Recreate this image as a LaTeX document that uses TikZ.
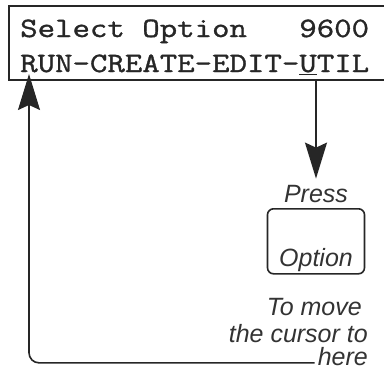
\documentclass[tikz,border=0pt]{standalone}
\usepackage{fontspec}
\setmonofont{Latin Modern Mono}[FakeStretch=1.21,FakeBold=1.2]
\setsansfont{Liberation Sans}
\usetikzlibrary{arrows.meta,positioning}

\begin{document}
\begin{tikzpicture}[x=1pt,y=-1pt,
    ink/.style={draw=black!85},
    lcd/.style={font=\ttfamily\fontsize{28}{30}\selectfont, text=black!85, inner sep=0pt, anchor=base west},
    hint/.style={font=\sffamily\itshape\fontsize{25}{27}\selectfont, text=black!80, inner sep=0pt},
    keycap/.style={ink, hint, line width=1.6pt, rounded corners=6pt, minimum width=97pt,
      text height=57pt, text depth=6pt, inner ysep=1pt},
    pointer/.style={ink, line width=1.6pt, -{Stealth[length=36pt,width=22pt,inset=5pt]}}]
  \useasboundingbox (0,0) rectangle (384,370);

  % the display, open on the right
  \draw[ink, line width=2pt] (384,6) -- (9,6) -- (9,80) -- (384,80);
  \node[lcd] (row1) at (20,37) {Select~Option~~~9600};
  \node[lcd] (row2) at (20,72) {RUN-CREATE-EDIT-\underline{U}TIL};
  \coordinate (cursor) at (316,80);
  \coordinate (start) at (29,74);

  % the key
  \node[hint, anchor=base] (press) at (316,202) {Press};
  \node[keycap, anchor=north] (key) at (316,208) {Option};
  \draw[pointer, shorten >=6pt] (cursor) -- (press.north);

  % the note
  \node[hint, anchor=base east] (note1) at (362,315) {To move};
  \node[hint, anchor=base east] (note2) at (368,342) {the cursor to};
  \node[hint, anchor=base east] (here) at (368,365) {here};
  \draw[pointer, rounded corners=10pt, shorten <=3pt] (here.mid west) -| (start);
\end{tikzpicture}
\end{document}
